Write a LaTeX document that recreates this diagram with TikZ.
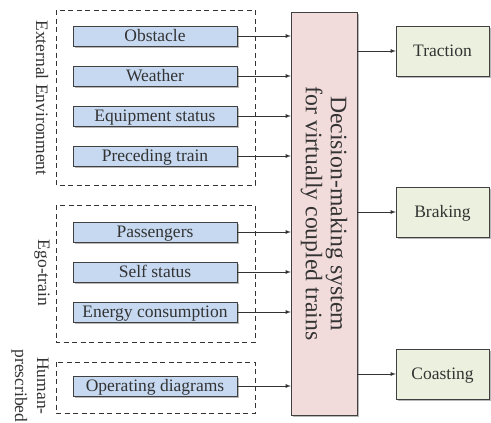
\documentclass[tikz,border=0pt]{standalone}
\usepackage{fontspec}
\setmainfont{Liberation Serif}
\usetikzlibrary{shadows}
\usetikzlibrary{positioning}

\definecolor{inblue}{HTML}{C6D9F1}
\definecolor{syspink}{HTML}{F2DCDB}
\definecolor{outgreen}{HTML}{EBF1DE}
\definecolor{txtgray}{HTML}{333333}
\definecolor{edgegray}{HTML}{404040}

\begin{document}
\begin{tikzpicture}[x=1pt,y=-1pt,
  inbox/.style={draw=edgegray,fill=inblue,inner sep=0pt,minimum width=164pt,minimum height=20pt,
    text height=14pt,text depth=3.5pt,
    text=txtgray,font=\fontsize{17.5}{20}\selectfont,
    drop shadow={shadow xshift=1.5pt,shadow yshift=-1.5pt,fill=gray!70,opacity=0.8}},
  outbox/.style={draw=edgegray,fill=outgreen,inner sep=0pt,minimum width=93pt,minimum height=50pt,
    text height=14pt,text depth=3.5pt,
    text=txtgray,font=\fontsize{17.5}{20}\selectfont,
    drop shadow={shadow xshift=1.5pt,shadow yshift=-1.5pt,fill=gray!70,opacity=0.8}},
  grouplabel/.style={rotate=-90,align=center,text=txtgray,font=\fontsize{17.5}{22}\selectfont},
  frame/.style={draw=txtgray,thick,dash pattern=on 5pt off 3.5pt},
  link/.style={draw=txtgray,thick,->,>=latex}]
\useasboundingbox (0,0) rectangle (491,423);

% dashed group frames
\draw[frame] (56,10) rectangle (255,185);
\draw[frame] (56,205) rectangle (255,342);
\draw[frame] (56,362) rectangle (255,413);

\node[grouplabel] (extlab) at (42,98) {External Environment};
\node[grouplabel] (egolab) at (42,273) {Ego-train};
\node[grouplabel] (humlab) at (30,386) {Human-\\prescribed};

% central system
\node[draw=edgegray,fill=syspink,minimum width=66pt,minimum height=403pt,inner sep=0pt,
  drop shadow={shadow xshift=1.5pt,shadow yshift=-1.5pt,fill=gray!70,opacity=0.8}] (dms) at (324,213.5) {};
\node[rotate=-90,align=center,text=txtgray,font=\fontsize{23.7}{25}\selectfont] (dmstxt) at (dms.center) {Decision-making system\\for virtually coupled trains};

% inputs
\node[inbox] (obst) at (155,36) {Obstacle};
\node[inbox] (weat) at (155,76) {Weather};
\node[inbox] (equi) at (155,116) {Equipment status};
\node[inbox] (prec) at (155,156) {Preceding train};
\node[inbox] (pass) at (155,232) {Passengers};
\node[inbox] (self) at (155,272) {Self status};
\node[inbox] (ener) at (155,312) {Energy consumption};
\node[inbox] (oper) at (155,386) {Operating diagrams};

\foreach \n in {obst,weat,equi,prec,pass,self,ener,oper}
  \draw[link] (\n.east) -- (\n.east -| dms.west);

% outputs
\node[outbox] (trac) at (442.5,51) {Traction};
\node[outbox] (brak) at (442.5,212) {Braking};
\node[outbox] (coas) at (442.5,374) {Coasting};

\foreach \n in {trac,brak,coas}
  \draw[link] (\n.west -| dms.east) -- (\n.west);

\end{tikzpicture}
\end{document}
